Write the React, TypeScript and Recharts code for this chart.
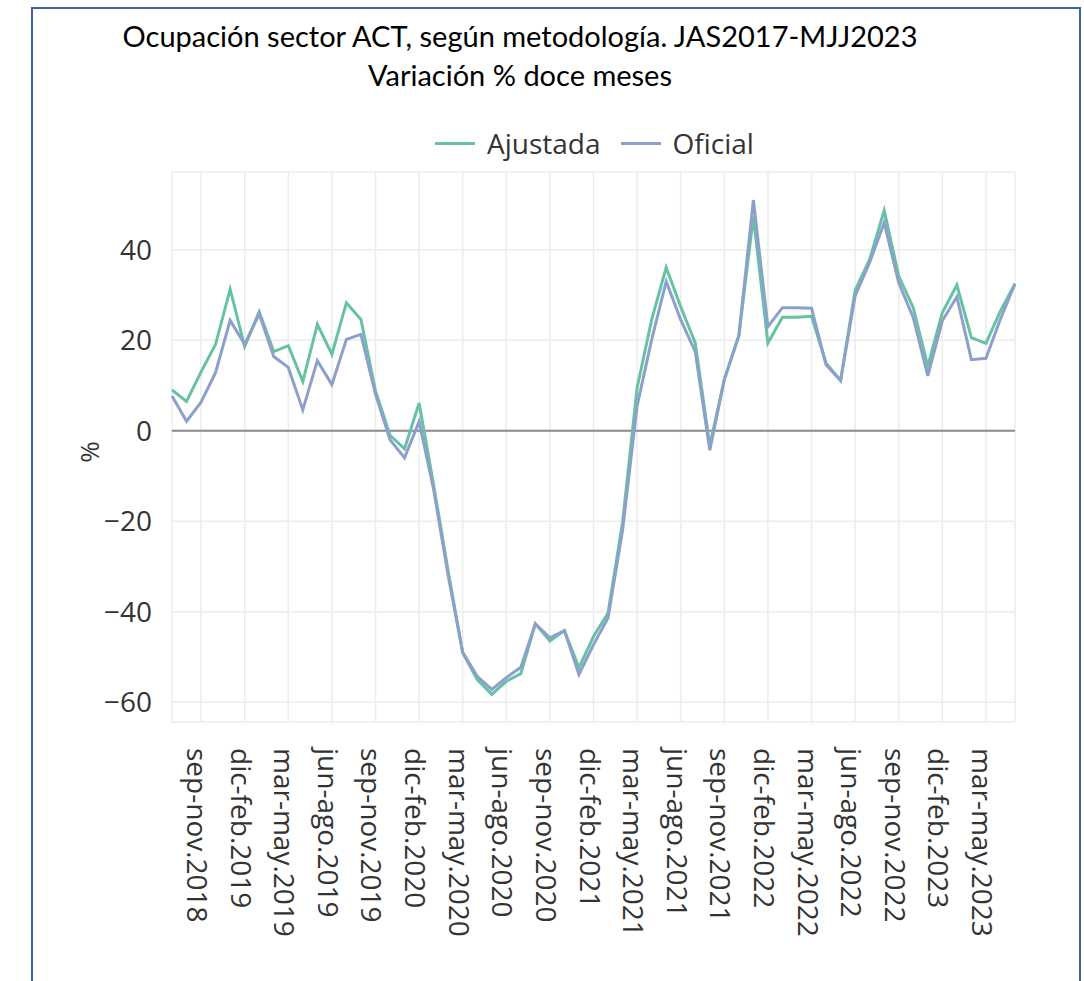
import { LineChart, Line, XAxis, YAxis, CartesianGrid, ReferenceLine } from "recharts";

const periods = [
  "jul-sep.2018", "ago-oct.2018", "sep-nov.2018", "oct-dic.2018", "nov-ene.2019", "dic-feb.2019",
  "ene-mar.2019", "feb-abr.2019", "mar-may.2019", "abr-jun.2019", "may-jul.2019", "jun-ago.2019",
  "jul-sep.2019", "ago-oct.2019", "sep-nov.2019", "oct-dic.2019", "nov-ene.2020", "dic-feb.2020",
  "ene-mar.2020", "feb-abr.2020", "mar-may.2020", "abr-jun.2020", "may-jul.2020", "jun-ago.2020",
  "jul-sep.2020", "ago-oct.2020", "sep-nov.2020", "oct-dic.2020", "nov-ene.2021", "dic-feb.2021",
  "ene-mar.2021", "feb-abr.2021", "mar-may.2021", "abr-jun.2021", "may-jul.2021", "jun-ago.2021",
  "jul-sep.2021", "ago-oct.2021", "sep-nov.2021", "oct-dic.2021", "nov-ene.2022", "dic-feb.2022",
  "ene-mar.2022", "feb-abr.2022", "mar-may.2022", "abr-jun.2022", "may-jul.2022", "jun-ago.2022",
  "jul-sep.2022", "ago-oct.2022", "sep-nov.2022", "oct-dic.2022", "nov-ene.2023", "dic-feb.2023",
  "ene-mar.2023", "feb-abr.2023", "mar-may.2023", "abr-jun.2023", "may-jul.2023",
];

const ajustada = [
  9.0, 6.5, 13.0, 19.1, 31.3, 18.6, 26.3, 17.5, 18.8, 10.9, 23.5, 16.9, 28.3, 24.6, 8.8,
  -1.0, -4.0, 6.1, -12, -31, -49.1, -55.0, -58.3, -55.4, -53.7,
  -42.7, -46.5, -44.2, -52.4, -45.5, -40.3, -20.3, 9.5, 24.5, 36.1, 27.4, 19.4,
  -3.3, 11.3, 21.0, 47.3, 19.4, 25.1, 25.1, 25.3, 14.9, 11.1,
  31.0, 37.9, 48.7, 34.2, 27.2, 14.3, 26.1, 32.2, 20.6, 19.3, 26.5, 32.5,
];

const oficial = [
  7.7, 2.1, 6.3, 12.9, 24.4, 19.1, 25.8, 16.4, 14.0, 4.6, 15.5, 10.2, 20.2, 21.3, 8.1,
  -2.0, -6.0, 2.0, -13, -32, -49.0, -54.3, -57.2, -54.6, -52.3,
  -42.7, -45.8, -44.2, -53.9, -47.3, -41.4, -22, 5.5, 20.1, 33.0, 24.5, 17.5,
  -4.3, 11.3, 21.0, 51.0, 23.0, 27.2, 27.2, 27.1, 14.6, 11.1,
  29.8, 37.2, 46.0, 32.7, 25.0, 12.1, 24.3, 29.6, 15.7, 16.0, 24.7, 32.5,
];

const xTicks = [
  "sep-nov.2018", "dic-feb.2019", "mar-may.2019", "jun-ago.2019", "sep-nov.2019",
  "dic-feb.2020", "mar-may.2020", "jun-ago.2020", "sep-nov.2020", "dic-feb.2021",
  "mar-may.2021", "jun-ago.2021", "sep-nov.2021", "dic-feb.2022", "mar-may.2022",
  "jun-ago.2022", "sep-nov.2022", "dic-feb.2023", "mar-may.2023",
];

const yTicks = [-60, -40, -20, 0, 20, 40];

const series = [
  { key: "Ajustada", color: "#66c2a5" },
  { key: "Oficial", color: "#8da0cb" },
];

const data = periods.map((p, i) => ({ periodo: p, Ajustada: ajustada[i], Oficial: oficial[i] }));

const FONT = "'Open Sans', 'DejaVu Sans', sans-serif";

function XTick(props: any) {
  const { x, y, payload } = props;
  return (
    <text
      transform={`translate(${x - 3},${y + 18}) rotate(90)`}
      textAnchor="start"
      dominantBaseline="central"
      fontFamily={FONT}
      fontSize={28}
      fill="#333"
    >
      {payload.value}
    </text>
  );
}

export default function App() {
  return (
    <div style={{ position: "absolute", left: 0, top: 0, width: 1084, height: 981, background: "#fff", overflow: "hidden" }}>
      <div
        style={{
          position: "absolute",
          left: 31,
          top: 7,
          width: 1046,
          height: 990,
          border: "2px solid #3f62a8",
        }}
      />
      <div
        style={{
          position: "absolute",
          left: 0,
          width: 1040,
          top: 16,
          textAlign: "center",
          fontFamily: "Lato, 'Noto Sans', sans-serif",
          fontSize: 29,
          lineHeight: "39px",
          color: "#000",
        }}
      >
        <div>Ocupación sector ACT, según metodología. JAS2017-MJJ2023</div>
        <div>Variación % doce meses</div>
      </div>
      {/* legend */}
      <div
        style={{
          position: "absolute",
          left: 435,
          top: 124,
          display: "flex",
          alignItems: "center",
          fontFamily: FONT,
          fontSize: 28,
          color: "#333",
        }}
      >
        {series.map((s) => (
          <div key={s.key} style={{ display: "flex", alignItems: "center", marginRight: 20 }}>
            <span style={{ display: "inline-block", width: 40, height: 3, background: s.color, marginRight: 12 }} />
            <span>{s.key}</span>
          </div>
        ))}
      </div>
      <div
        style={{
          position: "absolute",
          left: 78,
          top: 434,
          transform: "rotate(-90deg)",
          fontFamily: FONT,
          fontSize: 26,
          color: "#333",
        }}
      >
        %
      </div>
      <LineChart width={1084} height={981} data={data} margin={{ top: 172, right: 69, bottom: 19, left: 0 }}>
        <CartesianGrid stroke="#ececec" strokeWidth={1.5} />
        <XAxis
          dataKey="periodo"
          ticks={xTicks}
          interval={0}
          height={240}
          axisLine={false}
          tickLine={false}
          tick={<XTick />}
        />
        <YAxis
          width={172}
          domain={[-64.4, 57.2]}
          ticks={yTicks}
          allowDataOverflow
          axisLine={false}
          tickLine={false}
          tickSize={0}
          tickMargin={20}
          tickFormatter={(v: number) => (v < 0 ? "\u2212" + Math.abs(v) : String(v))}
          tick={{ fontFamily: FONT, fontSize: 28, fill: "#333" }}
        />
        <ReferenceLine y={0} stroke="#8a8a8a" strokeWidth={2} />
        {series.map((s) => (
          <Line
            key={s.key}
            type="linear"
            dataKey={s.key}
            stroke={s.color}
            strokeWidth={3}
            dot={false}
            isAnimationActive={false}
          />
        ))}
      </LineChart>
    </div>
  );
}
